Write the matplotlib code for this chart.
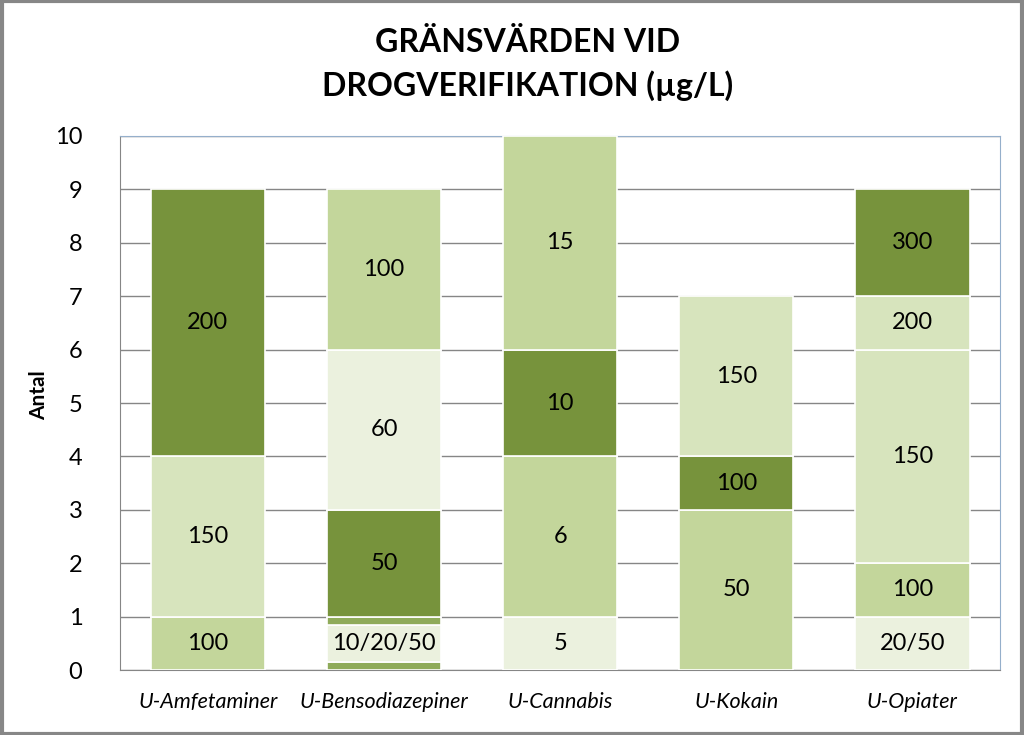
import matplotlib
matplotlib.use("Agg")
import matplotlib.pyplot as plt
from matplotlib.patches import Rectangle

# Data: per category, stacked segments bottom -> top
categories = ["U-Amfetaminer", "U-Bensodiazepiner", "U-Cannabis", "U-Kokain", "U-Opiater"]

amf_heights = [1, 3, 5]
amf_labels = ["100", "150", "200"]
amf_tones = ["light", "lighter", "dark"]

bens_heights = [0.15, 0.7, 0.15, 2, 3, 3]
bens_labels = ["", "10/20/50", "", "50", "60", "100"]
bens_tones = ["medium", "pale", "medium", "dark", "pale", "light"]

cann_heights = [1, 3, 2, 4]
cann_labels = ["5", "6", "10", "15"]
cann_tones = ["pale", "light", "dark", "light"]

kok_heights = [3, 1, 3]
kok_labels = ["50", "100", "150"]
kok_tones = ["light", "dark", "lighter"]

opi_heights = [1, 1, 4, 1, 2]
opi_labels = ["20/50", "100", "150", "200", "300"]
opi_tones = ["pale", "light", "lighter", "lighter", "dark"]

stacks = [
    (amf_heights, amf_labels, amf_tones),
    (bens_heights, bens_labels, bens_tones),
    (cann_heights, cann_labels, cann_tones),
    (kok_heights, kok_labels, kok_tones),
    (opi_heights, opi_labels, opi_tones),
]

COLORS = {
    "dark": "#77933C",
    "medium": "#8FAB5A",
    "light": "#C3D69B",
    "lighter": "#D7E4BD",
    "pale": "#EBF1DE",
}
FONT = ["Lato", "DejaVu Sans"]

fig = plt.figure(figsize=(10.24, 7.35), dpi=100)
ax = fig.add_axes([0.117, 0.0884, 0.86, 0.7266])

for i, (heights, labels, tones) in enumerate(stacks):
    bottom = 0
    for h, lab, tone in zip(heights, labels, tones):
        ax.bar(i, h, bottom=bottom, width=0.65, color=COLORS[tone],
               edgecolor="white", linewidth=1.2, zorder=3)
        if lab:
            ax.text(i, bottom + h / 2, lab, ha="center", va="center",
                    fontsize=17, family=FONT, color="black", zorder=4)
        bottom += h

ax.set_xlim(-0.5, 4.5)
ax.set_ylim(0, 10)
ax.set_yticks(range(0, 11))
ax.yaxis.grid(True, color="#868686", linewidth=1, zorder=0)
ax.set_axisbelow(True)
ax.tick_params(axis="y", length=0, pad=27, labelsize=17)
ax.tick_params(axis="x", length=0, pad=16, labelsize=15.5)
for t in ax.get_yticklabels():
    t.set_family(FONT)
ax.set_xticks(range(len(categories)))
ax.set_xticklabels(categories, style="italic", family=FONT)
for side in ("left", "bottom"):
    ax.spines[side].set_color("#868686")
for side in ("top", "right"):
    ax.spines[side].set_color("#95AFCB")
ax.set_ylabel("Antal", fontsize=15, fontweight="bold", family=FONT)
ax.yaxis.set_label_coords(-0.08, 0.515)

fig.text(0.515, 0.912, "GRÄNSVÄRDEN VID\nDROGVERIFIKATION (µg/L)", ha="center",
         va="center", fontsize=23, fontweight="bold", family=FONT,
         linespacing=1.5)

fig.patches.append(Rectangle((0.0015, 0.002), 0.997, 0.996, transform=fig.transFigure,
                             fill=False, edgecolor="#878787", linewidth=3))

fig.savefig("out.png", dpi=100)
